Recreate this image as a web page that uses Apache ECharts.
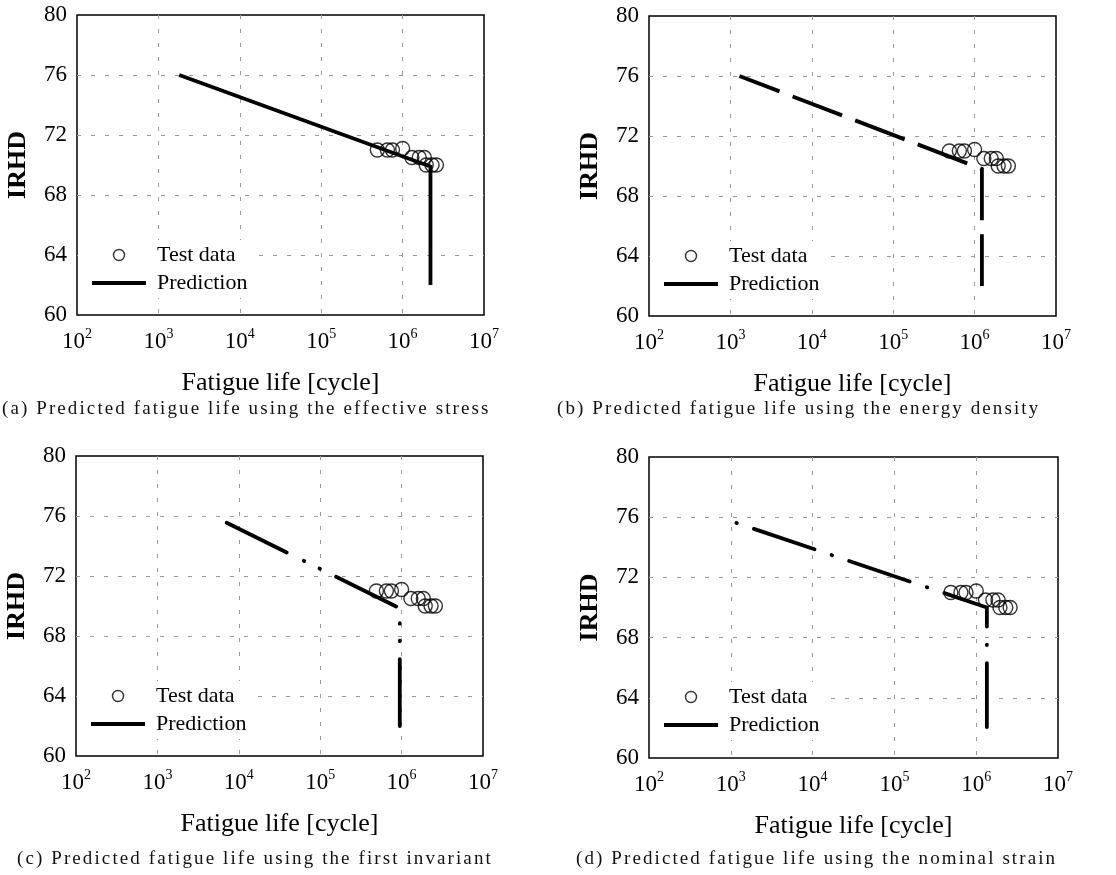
<!DOCTYPE html>
<html>
<head>
<meta charset="utf-8">
<script src="https://cdn.jsdelivr.net/npm/echarts@6/dist/echarts.min.js"></script>
<style>
  html, body { margin: 0; padding: 0; background: #fff; }
  #chart { width: 1116px; height: 875px; }
</style>
</head>
<body>
<div id="chart"></div>
<script>
// Measured hardness against cycles to failure (same specimens in every panel)
const testLife = [4.9e5, 6.5e5, 7.5e5, 1.0e6, 1.3e6, 1.6e6, 1.85e6, 1.95e6, 2.3e6, 2.6e6];
const testIrhd = [71.0, 71.0, 71.0, 71.1, 70.5, 70.5, 70.5, 70.0, 70.0, 70.0];

// Predicted life curves for each damage parameter
const predLifeA = [1.8e3, 2.2e6, 2.2e6];
const predIrhdA = [76.0, 69.9, 62.0];
const predLifeB = [1.29e3, 1.23e6, 1.23e6];
const predIrhdB = [76.0, 69.8, 62.0];
const predLifeC = [7.1e3, 9.5e5, 9.5e5];
const predIrhdC = [75.55, 69.85, 62.0];
const predLifeD = [1.17e3, 1.35e6, 1.35e6];
const predIrhdD = [75.62, 70.0, 61.9];

// Axis ticks
const yTicks = [60, 64, 68, 72, 76, 80];
const xDecades = [2, 3, 4, 5, 6, 7];

const captions = [
  '(a) Predicted fatigue life using the effective stress',
  '(b) Predicted fatigue life using the energy density',
  '(c) Predicted fatigue life using the first invariant',
  '(d) Predicted fatigue life using the nominal strain'
];
const panelKeys = ['a', 'b', 'c', 'd'];

const SERIF = 'Liberation Serif, Times New Roman, serif';

// Plot boxes and per-panel line styling
const panels = [
  { left: 77,  top: 15,  width: 407, height: 300, life: predLifeA, irhd: predIrhdA,
    dash: 'solid', offset: 0, cap: 'butt', capLeft: 2, capTop: 400 },
  { left: 649, top: 16,  width: 407, height: 300, life: predLifeB, irhd: predIrhdB,
    dash: [53, 14], offset: 10, cap: 'butt', capLeft: 557, capTop: 400 },
  { left: 76,  top: 456, width: 407, height: 300, life: predLifeC, irhd: predIrhdC,
    dash: [67, 19, 0.5, 17, 0.5, 18], offset: 0, cap: 'round', capLeft: 17, capTop: 850 },
  { left: 649, top: 457, width: 409, height: 301, life: predLifeD, irhd: predIrhdD,
    dash: [0.5, 18, 64, 18], offset: 0, cap: 'round', capLeft: 576, capTop: 850 }
];

const zip = (xs, ys) => xs.map((x, i) => [x, ys[i]]);

// Spread caption letters apart using one rich token per character
const spaced = s => s.split('').map(ch => '{c|' + ch + '}').join('');

// Series names carry a panel prefix so each legend only sees its own panel
const seriesName = (key, label) => key + ':' + label;
const legendLabel = name => name.slice(name.indexOf(':') + 1);

const chart = echarts.init(document.getElementById('chart'), null, { renderer: 'canvas' });

const option = {
  animation: false,
  backgroundColor: '#fff',
  title: panels.map((p, i) => ({
    text: spaced(captions[i]),
    left: p.capLeft,
    top: p.capTop,
    padding: 0,
    textStyle: {
      fontFamily: SERIF, fontSize: 19, fontWeight: 'normal', color: '#111',
      rich: { c: { fontFamily: SERIF, fontSize: 19, fontWeight: 'normal', color: '#111',
        padding: [0, 2.1, 0, 0] } }
    }
  })),
  grid: panels.map(p => ({
    left: p.left, top: p.top, width: p.width, height: p.height,
    show: true, borderColor: '#000', borderWidth: 1.5, backgroundColor: 'transparent',
    containLabel: false
  })),
  xAxis: panels.map((p, i) => ({
    type: 'log', logBase: 10, gridIndex: i,
    min: Math.pow(10, xDecades[0]), max: Math.pow(10, xDecades[xDecades.length - 1]),
    splitNumber: xDecades.length - 1,
    name: 'Fatigue life [cycle]', nameLocation: 'middle', nameGap: 55,
    nameTextStyle: { fontFamily: SERIF, fontSize: 26, color: '#000' },
    axisLine: { show: false }, axisTick: { show: false },
    splitLine: { show: true, showMinLine: false, showMaxLine: false,
      lineStyle: { color: '#999', width: 1, type: [4, 10] } },
    axisLabel: {
      margin: 12,
      formatter: v => '{b|10}{s|' + Math.round(Math.log10(v)) + '}',
      rich: {
        b: { fontFamily: SERIF, fontSize: 23, color: '#000', lineHeight: 26, verticalAlign: 'bottom' },
        s: { fontFamily: SERIF, fontSize: 14, color: '#000', lineHeight: 14, verticalAlign: 'top' }
      }
    }
  })),
  yAxis: panels.map((p, i) => ({
    type: 'value', gridIndex: i,
    min: yTicks[0], max: yTicks[yTicks.length - 1], interval: yTicks[1] - yTicks[0],
    name: 'IRHD', nameLocation: 'middle', nameGap: 46,
    nameTextStyle: { fontFamily: SERIF, fontSize: 26, fontWeight: 'bold', color: '#000' },
    axisLine: { show: false }, axisTick: { show: false },
    splitLine: { show: true, showMinLine: false, showMaxLine: false,
      lineStyle: { color: '#999', width: 1, type: [4, 10] } },
    axisLabel: { margin: 10, fontFamily: SERIF, fontSize: 23, color: '#000' }
  })),
  legend: panels.map((p, i) => ({
    left: p.left + 1, top: p.top + 225,
    orient: 'vertical', itemWidth: 54, itemHeight: 11, itemGap: 6,
    selectedMode: false, padding: [4, 10, 4, 14], backgroundColor: '#fff',
    formatter: legendLabel,
    textStyle: { fontFamily: SERIF, fontSize: 22, color: '#000', lineHeight: 22, padding: [0, 0, 0, 6] },
    data: [
      { name: seriesName(panelKeys[i], 'Test data'), icon: 'circle',
        itemStyle: { color: 'rgba(255,255,255,0)', borderColor: '#000', borderWidth: 1.4 } },
      { name: seriesName(panelKeys[i], 'Prediction'), icon: 'path://M0,0H54V4H0Z',
        itemStyle: { color: '#000', borderWidth: 0 } }
    ]
  })),
  series: panels.flatMap((p, i) => [
    {
      type: 'scatter', name: seriesName(panelKeys[i], 'Test data'), xAxisIndex: i, yAxisIndex: i,
      data: zip(testLife, testIrhd),
      symbol: 'circle', symbolSize: 14,
      itemStyle: { color: 'rgba(255,255,255,0)', borderColor: '#000', borderWidth: 1.4 },
      z: 2
    },
    {
      type: 'line', name: seriesName(panelKeys[i], 'Prediction'), xAxisIndex: i, yAxisIndex: i,
      data: zip(p.life, p.irhd),
      symbol: 'none',
      itemStyle: { color: '#000' },
      lineStyle: { color: '#000', width: 3.8, type: p.dash, dashOffset: p.offset,
        cap: p.cap, join: 'miter' },
      z: 3
    }
  ])
};

chart.setOption(option);
</script>
</body>
</html>
